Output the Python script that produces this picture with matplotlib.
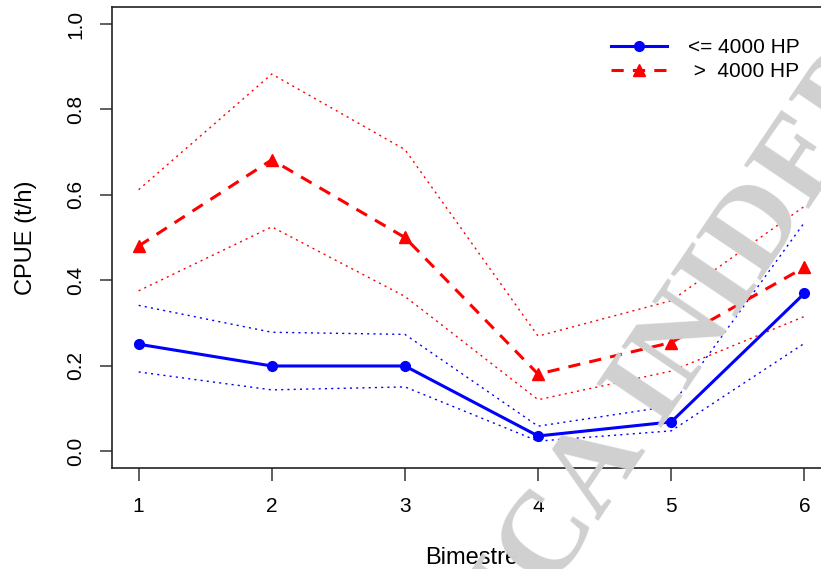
import matplotlib
matplotlib.use("Agg")
import matplotlib.pyplot as plt

plt.rcParams["font.family"] = ["Liberation Sans", "DejaVu Sans"]

bimestre = [1, 2, 3, 4, 5, 6]

# <= 4000 HP
low_mean = [0.250, 0.199, 0.199, 0.035, 0.068, 0.369]
low_upper = [0.341, 0.278, 0.273, 0.058, 0.105, 0.535]
low_lower = [0.185, 0.143, 0.150, 0.023, 0.047, 0.252]

# > 4000 HP
high_mean = [0.480, 0.682, 0.500, 0.180, 0.254, 0.430]
high_upper = [0.612, 0.883, 0.706, 0.269, 0.352, 0.573]
high_lower = [0.375, 0.525, 0.362, 0.120, 0.187, 0.315]

labels = ["<= 4000 HP", " >  4000 HP"]
yticks = [0.0, 0.2, 0.4, 0.6, 0.8, 1.0]

W, H = 821, 569
fig = plt.figure(figsize=(W / 100, H / 100), dpi=100)
ax = fig.add_axes([112 / W, 1 - 468 / H, (831 - 112) / W, (468 - 7) / H])

# watermark, behind the data (cut by the right edge as in the source)
fig.text(0.835, 0.40, "ICA INIDEP", rotation=56, fontsize=86, color="#d0d0d0",
         family="Liberation Serif", weight="bold", ha="center", va="center",
         zorder=0)
ax.patch.set_alpha(0)

dot = (0, (1.5, 3))
ax.plot(bimestre, low_upper, color="#0000ff", lw=1.0, ls=dot)
ax.plot(bimestre, low_lower, color="#0000ff", lw=1.0, ls=dot)
ax.plot(bimestre, high_upper, color="#ff0000", lw=1.0, ls=dot)
ax.plot(bimestre, high_lower, color="#ff0000", lw=1.0, ls=dot)

ax.plot(bimestre, low_mean, color="#0000ff", lw=2.2, marker="o", ms=7,
        label=labels[0])
ax.plot(bimestre, high_mean, color="#ff0000", lw=2.2, ls=(0, (4, 3)),
        marker="^", ms=8.5, label=labels[1])

ax.set_xlim(0.8, 6.2)
ax.set_ylim(-0.04, 1.04)
ax.set_xticks(bimestre)
ax.set_yticks(yticks)
ax.set_yticklabels([f"{v:.1f}" for v in yticks], rotation=90, va="center")
ax.tick_params(axis="both", direction="out", length=9, width=1.1,
               labelsize=15, color="#333333")
ax.tick_params(axis="x", pad=12)
ax.tick_params(axis="y", pad=10)
for s in ax.spines.values():
    s.set_linewidth(1.2)
    s.set_color("#222222")

ax.set_xlabel("Bimestre", fontsize=17, labelpad=22)
ax.set_ylabel("CPUE (t/h)", fontsize=17, labelpad=21)

ax.legend(loc="upper left", bbox_to_anchor=(611 / W, 1 - 38 / H),
          bbox_transform=fig.transFigure, frameon=False, fontsize=15,
          handlelength=2.7, handletextpad=1.0, labelspacing=0.25,
          borderpad=0, borderaxespad=0)

fig.savefig("out.png", dpi=100)
